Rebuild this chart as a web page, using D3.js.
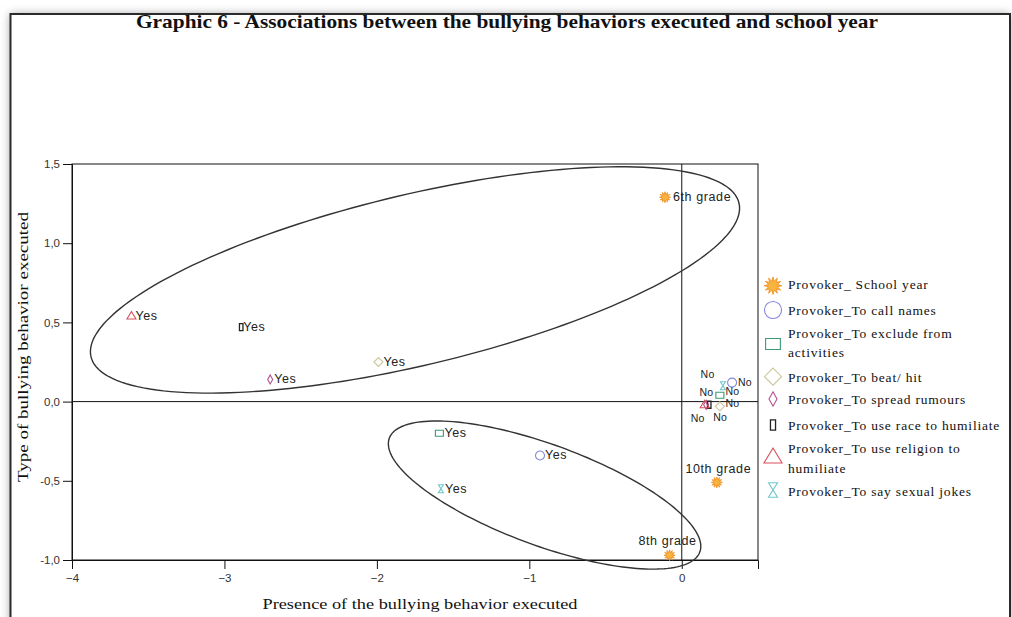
<!DOCTYPE html>
<html><head><meta charset="utf-8">
<script src="https://cdn.jsdelivr.net/npm/d3@7"></script>
<style>html,body{margin:0;padding:0;background:#fff;overflow:hidden;} svg{display:block;}</style>
</head><body>
<svg id="chart" width="1012" height="617"></svg>
<script>
// ---------- data ----------
const chartTitle = "Graphic 6 - Associations between the bullying behaviors executed and school year";
const xTitle = "Presence of the bullying behavior executed";
const yTitle = "Type of bullying behavior executed";
const seriesNames = ["Provoker_ School year","Provoker_To call names","Provoker_To exclude from activities","Provoker_To beat/ hit","Provoker_To spread rumours","Provoker_To use race to humiliate","Provoker_To use religion to humiliate","Provoker_To say sexual jokes"];
const legendLines = [["Provoker_ School year"],["Provoker_To call names"],["Provoker_To exclude from","activities"],["Provoker_To beat/ hit"],["Provoker_To spread rumours"],["Provoker_To use race to humiliate"],["Provoker_To use religion to","humiliate"],["Provoker_To say sexual jokes"]];
const pointSeries = [0,0,0, 1,1, 2,2, 3,3, 4,4, 5,5, 6,6, 7,7];
const pointLabels = ["6th grade","10th grade","8th grade", "Yes","No", "Yes","No", "Yes","No", "Yes","No", "Yes","No", "Yes","No", "Yes","No"];
const pointX = [-0.11, 0.23, -0.08,  -0.93, 0.33,  -1.59, 0.25,  -1.99, 0.25,  -2.70, 0.16,  -2.89, 0.18,  -3.61, 0.15,  -1.58, 0.27];
const pointY = [ 1.29, -0.51, -0.97, -0.34, 0.12,  -0.20, 0.04,   0.25, -0.03,  0.14, -0.02,  0.47, -0.02,  0.54, -0.02,  -0.55, 0.10];
const xTicks = [-4,-3,-2,-1,0];
const yTicks = [-1,-0.5,0,0.5,1,1.5];
const xDomain = [-4, 0.5];
const yDomain = [-1, 1.5];
// grouping ellipses (data units)
const ellipseCx = [-1.75, -0.90];
const ellipseCy = [0.768, -0.59];
const ellipseRx = [2.18, 1.08];
const ellipseRy = [0.54, 0.32];
const ellipseAngle = [12.8, -19.3];

// ---------- styling / layout ----------
const seriesColors = ["#f2a53a","#8585dc","#3b9a74","#cdc69b","#b2508f","#222222","#d6505d","#6ec6ca"];
const legendScale = [1.6, 1.9, 1.85, 1.9, 1.6, 1.45, 2.0, 1.8];
const legendY = [285.7, 310, 344, 376.7, 399, 425, 457, 490];
const legendBase = [[289],[315],[338,357],[381.7],[404],[430],[453,472.7],[496]];
// label placement: [dx, dy, anchor, fontSize]
const labelPlace = [
  [8,4,"start",12.5],[1.5,-9,"middle",12.5],[-2,-10,"middle",12.5],
  [5,4,"start",12.5],[6,3.7,"start",10.5],
  [5,4,"start",12.5],[5.5,0,"start",10.5],
  [5,4,"start",12.5],[5.5,0.8,"start",10.5],
  [4,4,"start",12.5],[7,16.5,"start",10.5],
  [2,4,"start",12.5],[4,-8.8,"end",10.5],
  [4,4,"start",12.5],[0,17.5,"end",10.5],
  [4,4,"start",12.5],[-8.5,-8.2,"end",10.5]
];

const svg = d3.select("#chart");
const defs = svg.append("defs");
const f = defs.append("filter").attr("id","sh").attr("x","-10%").attr("y","-10%").attr("width","120%").attr("height","120%");
f.append("feGaussianBlur").attr("stdDeviation",5);

// frame with shadow
svg.append("rect").attr("x",0).attr("y",0).attr("width",1012).attr("height",617).attr("fill","#fff");
svg.append("rect").attr("x",10).attr("y",14).attr("width",1000).attr("height",640).attr("fill","#a0a0a0").attr("filter","url(#sh)");
svg.append("rect").attr("x",10.5).attr("y",14).attr("width",999.5).attr("height",640).attr("fill","#fff").attr("stroke","#2a2a2a").attr("stroke-width",2);

const x = d3.scaleLinear().domain(xDomain).range([72, 758]);
const y = d3.scaleLinear().domain(yDomain).range([560, 164]);

// title
svg.append("text").attr("x",507).attr("y",28).attr("text-anchor","middle")
  .attr("font-family","'Liberation Serif','Times New Roman',serif").attr("font-weight","bold")
  .attr("font-size",19).attr("textLength",742).attr("lengthAdjust","spacingAndGlyphs")
  .attr("fill","#111").text(chartTitle);

// plot frame
const g = svg.append("g");
g.append("rect").attr("x",x(xDomain[0])).attr("y",y(yDomain[1]))
  .attr("width",x(xDomain[1])-x(xDomain[0])).attr("height",y(yDomain[0])-y(yDomain[1]))
  .attr("fill","none").attr("stroke","#111").attr("stroke-width",1);
// reference lines
g.append("line").attr("x1",x(0)).attr("x2",x(0)).attr("y1",y(yDomain[0])).attr("y2",y(yDomain[1])).attr("stroke","#111");
g.append("line").attr("x1",x(xDomain[0])).attr("x2",x(xDomain[1])).attr("y1",y(0)).attr("y2",y(0)).attr("stroke","#111");

const loc = d3.formatLocale({decimal:",", thousands:".", grouping:[3], currency:["",""], minus:"-"});
const fmt1 = loc.format(".1f");

const xAxis = g.append("g").attr("transform",`translate(0,${y(yDomain[0])})`)
  .call(d3.axisBottom(x).tickValues(xTicks).tickSize(9).tickPadding(5).tickFormat(d3.format("d")));
const yAxis = g.append("g").attr("transform",`translate(${x(xDomain[0])},0)`)
  .call(d3.axisLeft(y).tickValues(yTicks).tickSize(9).tickPadding(3).tickFormat(fmt1));
[xAxis,yAxis].forEach(a=>{
  a.select(".domain").attr("stroke","#111");
  a.selectAll(".tick line").attr("stroke","#111");
  a.selectAll(".tick text").attr("font-family","'Liberation Sans',Arial,sans-serif").attr("font-size",11.5).attr("fill","#333");
});

// axis titles
svg.append("text").attr("x",420).attr("y",609).attr("text-anchor","middle")
  .attr("font-family","'Liberation Serif','Times New Roman',serif").attr("font-size",15.5)
  .attr("textLength",315).attr("lengthAdjust","spacingAndGlyphs").attr("fill","#111").text(xTitle);
svg.append("text").attr("transform","translate(28,347) rotate(-90)").attr("text-anchor","middle")
  .attr("font-family","'Liberation Serif','Times New Roman',serif").attr("font-size",15.5)
  .attr("textLength",270).attr("lengthAdjust","spacingAndGlyphs").attr("fill","#111").text(yTitle);

// ellipses
const tSteps = d3.range(0, 361, 2);
ellipseCx.forEach((cx,i)=>{
  const th = ellipseAngle[i]*Math.PI/180;
  const pts = tSteps.map(d=>{
    const t = d*Math.PI/180;
    const ex = cx + ellipseRx[i]*Math.cos(t)*Math.cos(th) - ellipseRy[i]*Math.sin(t)*Math.sin(th);
    const ey = ellipseCy[i] + ellipseRx[i]*Math.cos(t)*Math.sin(th) + ellipseRy[i]*Math.sin(t)*Math.cos(th);
    return [x(ex), y(ey)];
  });
  g.append("path").attr("d", d3.line().curve(d3.curveLinearClosed)(pts))
    .attr("fill","none").attr("stroke","#333").attr("stroke-width",1.4);
});

// symbols
function symbolPath(s, k){
  switch(s){
    case 0: { // sun
      const n=12, ro=5.5*k, ri=2.9*k; let p="";
      for(let j=0;j<2*n;j++){const r=j%2?ri:ro; const a=Math.PI*j/n - Math.PI/2; p+=(j?"L":"M")+(r*Math.cos(a)).toFixed(2)+","+(r*Math.sin(a)).toFixed(2);}
      return p+"Z";
    }
    case 1: { const r=4.5*k; return `M${-r},0a${r},${r} 0 1,0 ${2*r},0a${r},${r} 0 1,0 ${-2*r},0Z`; }
    case 2: { const w=4*k,h=3*k; return `M${-w},${-h}H${w}V${h}H${-w}Z`; }
    case 3: { const w=4.5*k,h=4.5*k; return `M0,${-h}L${w},0L0,${h}L${-w},0Z`; }
    case 4: { const w=2.5*k,h=4.5*k; return `M0,${-h}L${w},0L0,${h}L${-w},0Z`; }
    case 5: { const w=1.75*k,h=3.5*k; return `M${-w},${-h}H${w}V${h}H${-w}Z`; }
    case 6: { const w=4.5*k; return `M0,${-4.5*k}L${w},${3*k}L${-w},${3*k}Z`; }
    case 7: { const w=2.5*k,h=4*k; return `M${-w},${-h}L${w},${-h}L${-w},${h}L${w},${h}Z`; }
  }
}
function styleSym(sel, s){
  if(s===0) sel.attr("fill","#f7b43e").attr("stroke","#f08c1c").attr("stroke-width",0.8);
  else sel.attr("fill","none").attr("stroke",seriesColors[s]).attr("stroke-width",s===5?1.3:1.1);
}

// points
const pts = g.append("g");
pointX.forEach((px,i)=>{
  const s = pointSeries[i];
  const p = pts.append("path").attr("d",symbolPath(s,1)).attr("transform",`translate(${x(px)},${y(pointY[i])})`);
  styleSym(p,s);
});
// labels
pointX.forEach((px,i)=>{
  const lp = labelPlace[i];
  g.append("text").attr("x",x(px)+lp[0]).attr("y",y(pointY[i])+lp[1]).attr("text-anchor",lp[2])
    .attr("font-family","'Liberation Sans',Arial,sans-serif").attr("font-size",lp[3])
    .attr("letter-spacing",lp[3]>11?0.6:0.2).attr("fill","#222").text(pointLabels[i]);
});

// legend
const lg = svg.append("g");
seriesNames.forEach((name,s)=>{
  const p = lg.append("path").attr("d",symbolPath(s,legendScale[s])).attr("transform",`translate(773,${legendY[s]})`);
  styleSym(p,s);
  legendLines[s].forEach((line,j)=>{
    lg.append("text").attr("x",788).attr("y",legendBase[s][j])
      .attr("font-family","'Liberation Serif','Times New Roman',serif").attr("font-size",13.5)
      .attr("letter-spacing",0.8).attr("fill","#111").text(line);
  });
});
</script>
</body></html>
